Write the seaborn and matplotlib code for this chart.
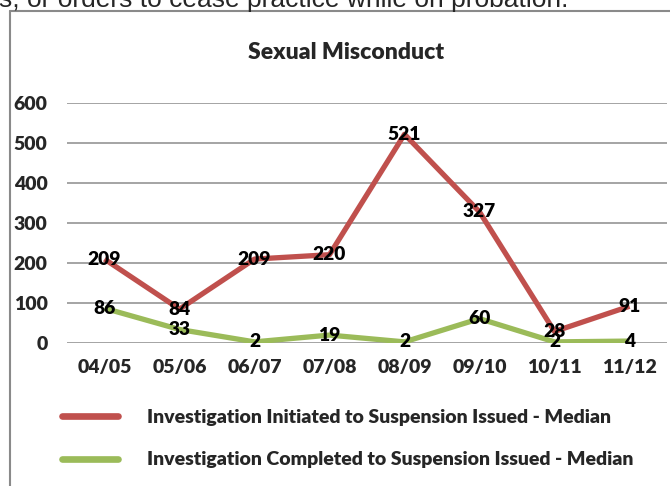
import pandas as pd
import matplotlib.pyplot as plt
import seaborn as sns
from matplotlib.lines import Line2D

# chart data
years = ["04/05", "05/06", "06/07", "07/08", "08/09", "09/10", "10/11", "11/12"]
initiated = [209, 84, 209, 220, 521, 327, 28, 91]
completed = [86, 33, 2, 19, 2, 60, 2, 4]
series_names = ["Investigation Initiated to Suspension Issued - Median",
                "Investigation Completed to Suspension Issued - Median"]
colors = ["#C0504D", "#9BBB59"]

df = pd.concat([
    pd.DataFrame({"year": years, "days": initiated, "series": series_names[0]}),
    pd.DataFrame({"year": years, "days": completed, "series": series_names[1]}),
])

sns.set_style("white")
plt.rcParams["font.family"] = ["Lato", "DejaVu Sans"]
W = "heavy"

fig = plt.figure(figsize=(6.7, 4.86), dpi=100)
ax = fig.add_axes([0.1, 0.2949, 0.8955, 0.4938])

sns.lineplot(data=df, x="year", y="days", hue="series", palette=colors,
             linewidth=3.8, sort=False, legend=False, ax=ax)
for ln in ax.lines:
    ln.set_solid_capstyle("butt")

# data labels centred on the points
for vals in (initiated, completed):
    for i, v in enumerate(vals):
        ax.text(i, v, str(v), ha="center", va="center", fontsize=13.8,
                fontweight=W, color="black", zorder=5)

ax.set_xlim(-0.5, len(years) - 0.5)
ax.set_ylim(0, 600)
ax.set_yticks(range(0, 601, 100))
ax.grid(axis="y", color="#8c8c8c", linewidth=1.1)
ax.grid(axis="x", visible=False)
for s in ax.spines.values():
    s.set_visible(False)
ax.set_xlabel("")
ax.set_ylabel("")
ax.tick_params(axis="y", length=0, pad=14, labelsize=14)
ax.tick_params(axis="x", length=0, pad=12, labelsize=14)
for lbl in ax.get_xticklabels() + ax.get_yticklabels():
    lbl.set_fontweight(W)

fig.text(0.517, 0.893, "Sexual Misconduct", ha="center", va="center",
         fontsize=16.5, fontweight=W)

handles = [Line2D([], [], color=c, linewidth=4.8, solid_capstyle="round") for c in colors]
fig.legend(handles, series_names, loc="upper left", bbox_to_anchor=(0.0925, 0.158),
           frameon=False, prop={"weight": W, "size": 14},
           handlelength=2.9, handletextpad=1.45, labelspacing=1.3, borderpad=0,
           borderaxespad=0)

# chart area border and the cut-off line of text above it
fig.add_artist(Line2D([0.0149, 0.0149], [0, 0.9774], color="#8a8a8a", linewidth=1.5,
                      transform=fig.transFigure))
fig.add_artist(Line2D([0.0149, 1.0], [0.9774, 0.9774], color="#8a8a8a", linewidth=1.5,
                      transform=fig.transFigure))
fig.text(-0.002, 0.9866, "s, or orders to cease practice while on probation.", ha="left",
         va="baseline", fontsize=19, family="Liberation Sans")

fig.savefig("out.png", dpi=100)
